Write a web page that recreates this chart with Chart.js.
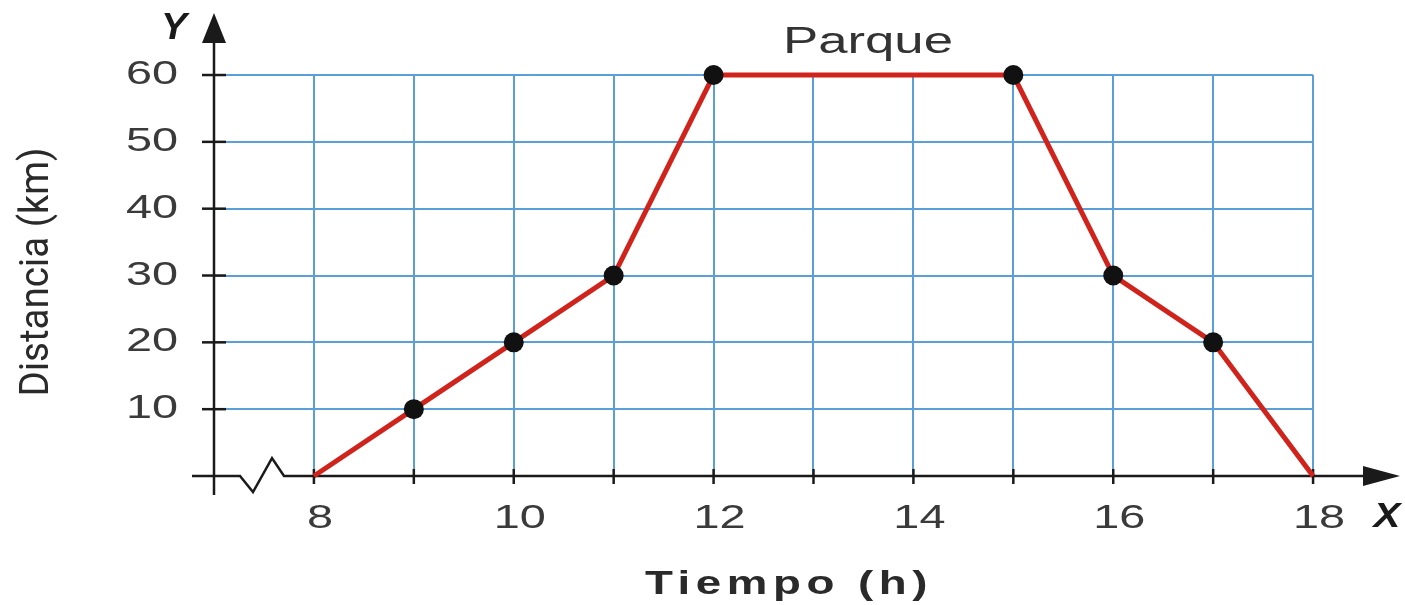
<!DOCTYPE html>
<html>
<head>
<meta charset="utf-8">
<script src="https://cdn.jsdelivr.net/npm/chart.js@4/dist/chart.umd.min.js"></script>
<style>
  html, body { margin: 0; padding: 0; background: #fff; }
  #wrap { width: 1405px; height: 605px; }
</style>
</head>
<body>
<div id="wrap"><canvas id="trip-chart" width="1405" height="605"></canvas></div>
<script>
// data
var hours = [8, 9, 10, 11, 12, 15, 16, 17, 18];
var distance = [0, 10, 20, 30, 60, 60, 30, 20, 0];
var gridHours = [8, 9, 10, 11, 12, 13, 14, 15, 16, 17, 18];
var hourLabels = [8, 10, 12, 14, 16, 18];
var distanceTicks = [10, 20, 30, 40, 50, 60];

var gridBlue = "#5b9fd8";
var ink = "#1a1a1a";
var textGray = "#3a3a3a";

// draw text squeezed/stretched to a width (the scan is stretched sideways)
function wideText(ctx, text, x, y, font, sx, align, color, spacing) {
  ctx.save();
  ctx.font = font;
  ctx.fillStyle = color;
  ctx.textAlign = align;
  ctx.textBaseline = "middle";
  if (spacing) ctx.letterSpacing = spacing + "px";
  ctx.translate(x, y);
  ctx.scale(sx, 1);
  ctx.fillText(text, 0, 0);
  ctx.restore();
}

function fitScale(ctx, text, font, width, spacing) {
  ctx.save();
  ctx.font = font;
  if (spacing) ctx.letterSpacing = spacing + "px";
  var w = ctx.measureText(text).width;
  ctx.restore();
  return width / w;
}

var axesPlugin = {
  id: "axesPlugin",
  beforeDatasetsDraw: function(chart) {
    var ctx = chart.ctx;
    var xs = chart.scales.x, ys = chart.scales.y;
    var x0 = xs.getPixelForValue(7), x18 = xs.getPixelForValue(18);
    var y0 = ys.getPixelForValue(0), y60 = ys.getPixelForValue(60);

    // blue grid
    ctx.save();
    ctx.strokeStyle = gridBlue;
    ctx.lineWidth = 2;
    gridHours.forEach(function(h) {
      var px = Math.round(xs.getPixelForValue(h));
      ctx.beginPath(); ctx.moveTo(px, y60); ctx.lineTo(px, y0); ctx.stroke();
    });
    distanceTicks.forEach(function(d) {
      var py = Math.round(ys.getPixelForValue(d));
      ctx.beginPath(); ctx.moveTo(x0, py); ctx.lineTo(x18, py); ctx.stroke();
    });
    ctx.restore();

    // black axes
    ctx.save();
    ctx.strokeStyle = ink;
    ctx.fillStyle = ink;
    ctx.lineWidth = 2.5;
    var top = chart.chartArea.top, bottom = chart.chartArea.bottom, right = chart.chartArea.right;

    // y axis + arrow
    ctx.beginPath(); ctx.moveTo(x0, bottom); ctx.lineTo(x0, top + 26); ctx.stroke();
    ctx.beginPath();
    ctx.moveTo(x0, top); ctx.lineTo(x0 - 12, top + 30); ctx.lineTo(x0 + 12, top + 30);
    ctx.closePath(); ctx.fill();

    // x axis with break + arrow
    ctx.beginPath();
    ctx.moveTo(x0 - 22, y0);
    ctx.lineTo(x0 + 26, y0);
    ctx.lineTo(x0 + 39, y0 + 16);
    ctx.lineTo(x0 + 58, y0 - 18);
    ctx.lineTo(x0 + 70, y0);
    ctx.lineTo(right - 34, y0);
    ctx.stroke();
    ctx.beginPath();
    ctx.moveTo(right, y0); ctx.lineTo(right - 37, y0 - 10); ctx.lineTo(right - 37, y0 + 10);
    ctx.closePath(); ctx.fill();

    // tick marks
    gridHours.forEach(function(h) {
      var px = xs.getPixelForValue(h);
      ctx.beginPath(); ctx.moveTo(px, y0 - 7); ctx.lineTo(px, y0 + 8); ctx.stroke();
    });
    distanceTicks.forEach(function(d) {
      var py = ys.getPixelForValue(d);
      ctx.beginPath(); ctx.moveTo(x0 - 12, py); ctx.lineTo(x0 + 12, py); ctx.stroke();
    });
    ctx.restore();
  },
  afterDraw: function(chart) {
    var ctx = chart.ctx;
    var xs = chart.scales.x, ys = chart.scales.y;
    var x0 = xs.getPixelForValue(7), y0 = ys.getPixelForValue(0);
    var tickFont = "33px 'Liberation Sans', Arial, sans-serif";

    distanceTicks.forEach(function(d) {
      wideText(ctx, String(d), x0 - 36, ys.getPixelForValue(d), tickFont, 1.42, "right", textGray);
    });
    hourLabels.forEach(function(h) {
      wideText(ctx, String(h), xs.getPixelForValue(h) + 6, y0 + 43, tickFont, 1.42, "center", textGray);
    });

    // axis letters
    wideText(ctx, "Y", x0 - 40, 29, "italic bold 37px 'Liberation Sans', Arial, sans-serif", 1.05, "center", ink);
    wideText(ctx, "X", 1387, y0 + 41, "italic bold 35px 'Liberation Sans', Arial, sans-serif", 1.15, "center", ink);

    // annotation above the flat part
    var pf = "37px 'Liberation Sans', Arial, sans-serif";
    wideText(ctx, "Parque", 868, 43, pf, fitScale(ctx, "Parque", pf, 170), "center", "#333");

    // x title
    var tf = "bold 33px 'Liberation Sans', Arial, sans-serif";
    wideText(ctx, "Tiempo (h)", 789, 585, tf, fitScale(ctx, "Tiempo (h)", tf, 288, 4), "center", "#2a2a2a", 4);

    // y title (rotated)
    var yf = "41px Roboto, sans-serif";
    var k = fitScale(ctx, "Distancia (km)", yf, 249);
    ctx.save();
    ctx.font = yf;
    ctx.fillStyle = "#2a2a2a";
    ctx.textAlign = "center";
    ctx.textBaseline = "middle";
    ctx.translate(38, 272);
    ctx.rotate(-Math.PI / 2);
    ctx.scale(k, 1);
    ctx.fillText("Distancia (km)", 0, 0);
    ctx.restore();
  }
};

var tripCanvas = document.getElementById("trip-chart");

var tripChart = new Chart(tripCanvas, {
  type: "line",
  data: {
    datasets: [{
      label: "Distancia",
      data: hours.map(function(h, i) { return { x: h, y: distance[i] }; }),
      borderColor: "#d0231b",
      borderWidth: 5,
      backgroundColor: "#111",
      pointBackgroundColor: "#111",
      pointBorderWidth: 0,
      pointRadius: function(c) { return c.raw && c.raw.y === 0 ? 0 : 10; },
      pointHoverRadius: 10,
      tension: 0,
      fill: false,
      clip: false
    }]
  },
  options: {
    responsive: false,
    animation: false,
    layout: { padding: { left: 214, right: 5, top: 13, bottom: 110 } },
    plugins: {
      legend: { display: false },
      tooltip: { enabled: false }
    },
    scales: {
      x: { type: "linear", min: 7, max: 18.87, display: false },
      y: { type: "linear", min: -2.84, max: 69.28, display: false }
    }
  },
  plugins: [axesPlugin]
});
</script>
</body>
</html>
